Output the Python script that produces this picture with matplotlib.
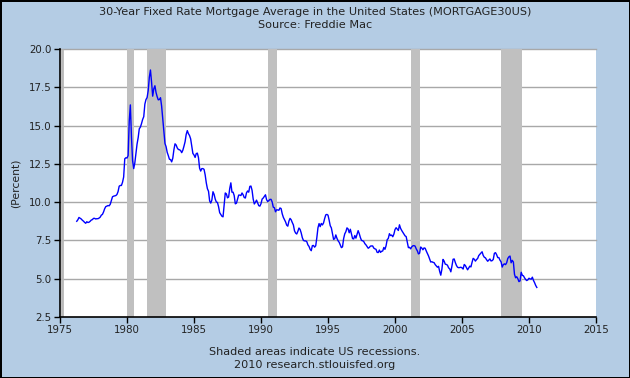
import numpy as np
import matplotlib
matplotlib.use("Agg")
import matplotlib.pyplot as plt

# 30-year fixed mortgage rate, monthly averages (percent), Apr 1976 .. Aug 2010
start_year = 1976
start_month = 4
rates = [
    # 1976 (Apr-Dec)
    8.75, 8.85, 9.00, 8.95, 8.90, 8.82, 8.76, 8.68, 8.62,
    # 1977
    8.72, 8.67, 8.69, 8.75, 8.83, 8.86, 8.94, 8.94, 8.90, 8.92, 8.92, 8.96,
    # 1978
    9.02, 9.15, 9.20, 9.36, 9.57, 9.71, 9.74, 9.78, 9.76, 9.86, 10.11, 10.35,
    # 1979
    10.39, 10.41, 10.43, 10.50, 10.69, 11.04, 11.09, 11.09, 11.30, 11.64, 12.83, 12.90,
    # 1980
    12.88, 13.04, 15.28, 16.35, 14.26, 12.71, 12.19, 12.56, 13.20, 13.79, 14.21, 14.79,
    # 1981
    14.90, 15.13, 15.40, 15.58, 16.40, 16.70, 16.83, 17.29, 18.16, 18.63, 17.83, 16.92,
    # 1982
    17.40, 17.60, 17.16, 16.89, 16.68, 16.70, 16.82, 16.27, 15.43, 14.61, 13.83, 13.62,
    # 1983
    13.25, 13.04, 12.80, 12.78, 12.63, 12.87, 13.42, 13.81, 13.73, 13.54, 13.44, 13.42,
    # 1984
    13.37, 13.23, 13.39, 13.65, 13.94, 14.42, 14.67, 14.47, 14.35, 14.13, 13.64, 13.18,
    # 1985
    13.08, 12.92, 13.17, 13.20, 12.91, 12.22, 12.03, 12.19, 12.19, 12.14, 11.78, 11.26,
    # 1986
    10.88, 10.71, 10.08, 9.94, 10.14, 10.68, 10.51, 10.20, 10.01, 9.98, 9.70, 9.31,
    # 1987
    9.20, 9.08, 9.04, 9.83, 10.60, 10.54, 10.28, 10.33, 10.89, 11.26, 10.65, 10.65,
    # 1988
    10.43, 9.89, 9.93, 10.20, 10.46, 10.46, 10.43, 10.60, 10.48, 10.30, 10.27, 10.61,
    # 1989
    10.73, 10.65, 11.03, 11.05, 10.77, 10.20, 9.88, 9.99, 10.13, 9.95, 9.77, 9.74,
    # 1990
    9.90, 10.20, 10.27, 10.37, 10.48, 10.16, 10.04, 10.10, 10.18, 10.18, 10.01, 9.67,
    # 1991
    9.64, 9.37, 9.50, 9.49, 9.47, 9.62, 9.58, 9.24, 9.01, 8.86, 8.71, 8.50,
    # 1992
    8.43, 8.76, 8.94, 8.85, 8.67, 8.51, 8.13, 7.98, 7.92, 8.09, 8.31, 8.22,
    # 1993
    7.99, 7.68, 7.50, 7.47, 7.47, 7.42, 7.21, 7.11, 6.92, 6.83, 7.16, 7.17,
    # 1994
    7.06, 7.15, 7.68, 8.32, 8.60, 8.40, 8.61, 8.51, 8.64, 8.93, 9.17, 9.20,
    # 1995
    9.15, 8.83, 8.46, 8.32, 7.96, 7.57, 7.61, 7.86, 7.64, 7.48, 7.38, 7.20,
    # 1996
    7.03, 7.08, 7.62, 7.93, 8.07, 8.32, 8.25, 8.00, 8.23, 7.92, 7.62, 7.60,
    # 1997
    7.82, 7.65, 7.90, 8.14, 7.94, 7.69, 7.50, 7.48, 7.43, 7.29, 7.21, 7.10,
    # 1998
    6.99, 7.04, 7.13, 7.14, 7.14, 7.00, 6.95, 6.92, 6.72, 6.71, 6.87, 6.72,
    # 1999
    6.79, 6.81, 7.04, 6.92, 7.15, 7.55, 7.63, 7.94, 7.82, 7.85, 7.74, 7.91,
    # 2000
    8.21, 8.33, 8.24, 8.15, 8.52, 8.29, 8.15, 8.03, 7.91, 7.80, 7.75, 7.38,
    # 2001
    7.03, 7.05, 6.95, 7.08, 7.15, 7.16, 7.13, 6.95, 6.82, 6.62, 6.66, 7.07,
    # 2002
    7.00, 6.89, 7.01, 6.99, 6.81, 6.65, 6.49, 6.29, 6.09, 6.11, 6.07, 6.05,
    # 2003
    5.92, 5.84, 5.75, 5.81, 5.48, 5.23, 5.63, 6.26, 6.15, 5.95, 5.93, 5.88,
    # 2004
    5.71, 5.64, 5.45, 5.83, 6.27, 6.29, 6.06, 5.87, 5.75, 5.72, 5.73, 5.75,
    # 2005
    5.71, 5.63, 5.93, 5.86, 5.72, 5.58, 5.70, 5.82, 5.77, 6.07, 6.33, 6.27,
    # 2006
    6.15, 6.25, 6.32, 6.51, 6.60, 6.68, 6.76, 6.52, 6.40, 6.36, 6.24, 6.14,
    # 2007
    6.22, 6.29, 6.16, 6.18, 6.26, 6.66, 6.70, 6.57, 6.38, 6.38, 6.21, 6.10,
    # 2008
    5.76, 5.92, 5.97, 5.92, 6.04, 6.32, 6.43, 6.48, 6.04, 6.20, 6.09, 5.29,
    # 2009
    5.06, 5.13, 5.00, 4.81, 4.86, 5.42, 5.22, 5.19, 5.06, 4.95, 4.88, 4.93,
    # 2010 (Jan-Aug)
    5.03, 4.99, 4.97, 5.10, 4.89, 4.74, 4.56, 4.43,
]

# recessions (start, end) as decimal years
recessions = [(1980.0, 1980.5), (1981.5, 1982.9), (1990.5, 1991.2),
              (2001.2, 2001.9), (2007.9, 2009.5)]

xticks = list(range(1975, 2020, 5))
yticks = [2.5, 5.0, 7.5, 10.0, 12.5, 15.0, 17.5, 20.0]

title = "30-Year Fixed Rate Mortgage Average in the United States (MORTGAGE30US)\nSource: Freddie Mac"
footer = "Shaded areas indicate US recessions.\n2010 research.stlouisfed.org"

bg = "#B4CCE4"
fs = 7.4      # tick labels
fs_txt = 8.1  # title / footer

t = start_year + (start_month - 1 + np.arange(len(rates))) / 12.0

fig = plt.figure(figsize=(6.3, 3.78), dpi=100, facecolor=bg)
fig.patch.set_edgecolor("black")
fig.patch.set_linewidth(1.0)

W, H = 630, 378
ax = fig.add_axes([60 / W, (H - 317) / H, 536 / W, 268 / H])
ax.set_facecolor("white")

for a, b in recessions:
    ax.axvspan(a, b, color="#C0C0C0", lw=0, zorder=1)

for y in yticks[1:]:
    ax.axhline(y, color="#A8A8A8", lw=1.0, zorder=0.5, clip_on=False)

ax.plot(t, rates, color="#0000FF", lw=1.0, zorder=3)

# grey inner shadow along the left axis
ax.plot([0.004, 0.004], [0, 1], transform=ax.transAxes, color="#B8B8B8",
        lw=2, zorder=4, solid_capstyle="butt")

ax.set_xlim(1975, 2015)
ax.set_ylim(2.5, 20.0)
ax.set_xticks(xticks)
ax.set_yticks(yticks)
ax.set_yticklabels([f"{v:.1f}" for v in yticks])

for s in ["top", "right"]:
    ax.spines[s].set_visible(False)
for s in ["left", "bottom"]:
    ax.spines[s].set_color("black")
    ax.spines[s].set_linewidth(1.2)
    ax.spines[s].set_zorder(5)

ax.tick_params(axis="both", direction="out", length=4, width=1,
               labelsize=fs, color="black", labelcolor="#222222", pad=2)
ax.set_ylabel("(Percent)", fontsize=7.8, color="#222222", labelpad=6)

fig.text(0.5, 1 - 18.5 / H, title, ha="center", va="center", fontsize=fs_txt,
         color="#222222", linespacing=1.4)
fig.text(0.5, 1 - 358.5 / H, footer, ha="center", va="center", fontsize=fs_txt,
         color="#222222", linespacing=1.4)

fig.savefig("out.png", dpi=100, facecolor=bg, edgecolor="black")
